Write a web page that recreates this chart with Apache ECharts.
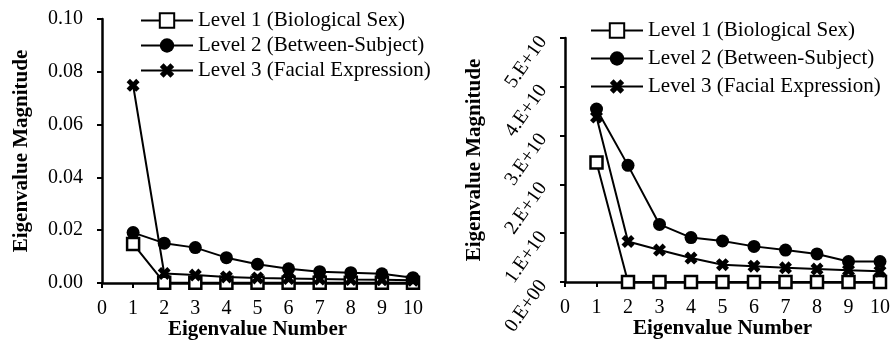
<!DOCTYPE html>
<html>
<head>
<meta charset="utf-8">
<script src="https://cdn.jsdelivr.net/npm/echarts@6/dist/echarts.min.js"></script>
<style>
html,body{margin:0;padding:0;background:#fff;}
#chart{width:893px;height:342px;}
</style>
</head>
<body>
<div id="chart"></div>
<script>
// ---- Data ----
var seriesNames = ['Level 1 (Biological Sex)', 'Level 2 (Between-Subject)', 'Level 3 (Facial Expression)'];
var eigenNumbers = [1, 2, 3, 4, 5, 6, 7, 8, 9, 10];

// Left panel
var leftLevel1 = [0.0148, 0.0001, 0.0001, 0.0001, 0.0001, 0.0001, 0.0001, 0.0001, 0.0001, 0.0001];
var leftLevel2 = [0.0191, 0.0151, 0.0134, 0.0096, 0.0071, 0.0054, 0.0043, 0.0039, 0.0035, 0.0020];
var leftLevel3 = [0.0749, 0.0036, 0.0030, 0.0023, 0.0019, 0.0017, 0.0015, 0.0013, 0.0012, 0.0010];

// Right panel
var rightLevel1 = [2.45e10, 0, 0, 0, 0, 0, 0, 0, 0, 0];
var rightLevel2 = [3.545e10, 2.39e10, 1.18e10, 0.91e10, 0.84e10, 0.73e10, 0.655e10, 0.575e10, 0.42e10, 0.42e10];
var rightLevel3 = [3.38e10, 0.83e10, 0.655e10, 0.49e10, 0.355e10, 0.325e10, 0.29e10, 0.266e10, 0.24e10, 0.22e10];

var rightTickLabels = ['0.E+00', '1.E+10', '2.E+10', '3.E+10', '4.E+10', '5.E+10'];
var xAxisTitle = 'Eigenvalue Number';
var yAxisTitle = 'Eigenvalue Magnitude';

// ---- Chart ----
var FONT = 'Liberation Serif';
var crossPath = 'path://M0,2.6 L2.6,0 L5,2.4 L7.4,0 L10,2.6 L7.6,5 L10,7.4 L7.4,10 L5,7.6 L2.6,10 L0,7.4 L2.4,5 Z';
var symbols = ['rect', 'circle', crossPath];
var symbolSizes = [12, 13, 13];
var fills = ['#fff', '#000', '#000'];
var borders = [2.5, 0, 0];

function pairs(vals) {
  return eigenNumbers.map(function (x, i) { return [x, vals[i]]; });
}

function makeSeries(idx, gridIdx, vals) {
  return {
    name: seriesNames[idx],
    type: 'line',
    xAxisIndex: gridIdx,
    yAxisIndex: gridIdx,
    data: pairs(vals),
    symbol: symbols[idx],
    symbolSize: symbolSizes[idx],
    showAllSymbol: true,
    clip: false,
    animation: false,
    lineStyle: { color: '#000', width: 2 },
    itemStyle: { color: fills[idx], borderColor: '#000', borderWidth: borders[idx], opacity: 1 }
  };
}

function xAxisCfg(gridIdx) {
  return {
    gridIndex: gridIdx,
    type: 'value',
    min: 0, max: 10, interval: 1,
    name: xAxisTitle,
    nameLocation: 'middle',
    nameGap: 36,
    nameMoveOverlap: false,
    nameTextStyle: { fontFamily: FONT, fontSize: 21, fontWeight: 'bold', color: '#000' },
    axisLine: { show: true, onZero: false, lineStyle: { color: '#000', width: 2.5 } },
    axisTick: { show: true, inside: false, length: 5, lineStyle: { color: '#000', width: 2 } },
    axisLabel: { fontFamily: FONT, fontSize: 20, color: '#000', margin: 16 },
    splitLine: { show: false }
  };
}

function legendCfg(left, top, gap) {
  return {
    data: seriesNames,
    orient: 'vertical',
    left: left, top: top,
    itemWidth: 52, itemHeight: 18, itemGap: gap,
    selectedMode: false,
    textStyle: { fontFamily: FONT, fontSize: 21, color: '#000' }
  };
}

var chart = echarts.init(document.getElementById('chart'), null, { renderer: 'canvas' });
var option = {
  backgroundColor: '#fff',
  animation: false,
  grid: [
    { left: 102, right: 480, top: 19, bottom: 59, containLabel: false, outerBoundsMode: 'none' },
    { left: 565, right: 13, top: 38, bottom: 60, containLabel: false, outerBoundsMode: 'none' }
  ],
  legend: [legendCfg(135, 5, 4), legendCfg(585, 15, 7)],
  xAxis: [xAxisCfg(0), xAxisCfg(1)],
  yAxis: [
    {
      gridIndex: 0,
      type: 'value',
      min: 0, max: 0.1, interval: 0.02,
      name: yAxisTitle,
      nameLocation: 'middle',
      nameRotate: 90,
      nameGap: 70,
      nameMoveOverlap: false,
      nameTextStyle: { fontFamily: FONT, fontSize: 21, fontWeight: 'bold', color: '#000' },
      axisLine: { show: true, onZero: false, lineStyle: { color: '#000', width: 2.5 } },
      axisTick: { show: true, length: 5, lineStyle: { color: '#000', width: 2 } },
      axisLabel: { fontFamily: FONT, fontSize: 20, color: '#000', margin: 19,
        formatter: function (v) { return v.toFixed(2); } },
      splitLine: { show: false }
    },
    {
      gridIndex: 1,
      type: 'value',
      min: 0, max: 5e10, interval: 1e10,
      name: yAxisTitle,
      nameLocation: 'middle',
      nameRotate: 90,
      nameGap: 80,
      nameMoveOverlap: false,
      nameTextStyle: { fontFamily: FONT, fontSize: 21, fontWeight: 'bold', color: '#000' },
      axisLine: { show: true, onZero: false, lineStyle: { color: '#000', width: 2.5 } },
      axisTick: { show: true, length: 5, lineStyle: { color: '#000', width: 2 } },
      axisLabel: { fontFamily: FONT, fontSize: 20, color: '#000', margin: 22, rotate: 55,
        formatter: function (v) { return rightTickLabels[Math.round(v / 1e10)]; } },
      splitLine: { show: false }
    }
  ],
  series: [
    makeSeries(0, 0, leftLevel1),
    makeSeries(1, 0, leftLevel2),
    makeSeries(2, 0, leftLevel3),
    makeSeries(0, 1, rightLevel1),
    makeSeries(1, 1, rightLevel2),
    makeSeries(2, 1, rightLevel3)
  ]
};
chart.setOption(option);
</script>
</body>
</html>
